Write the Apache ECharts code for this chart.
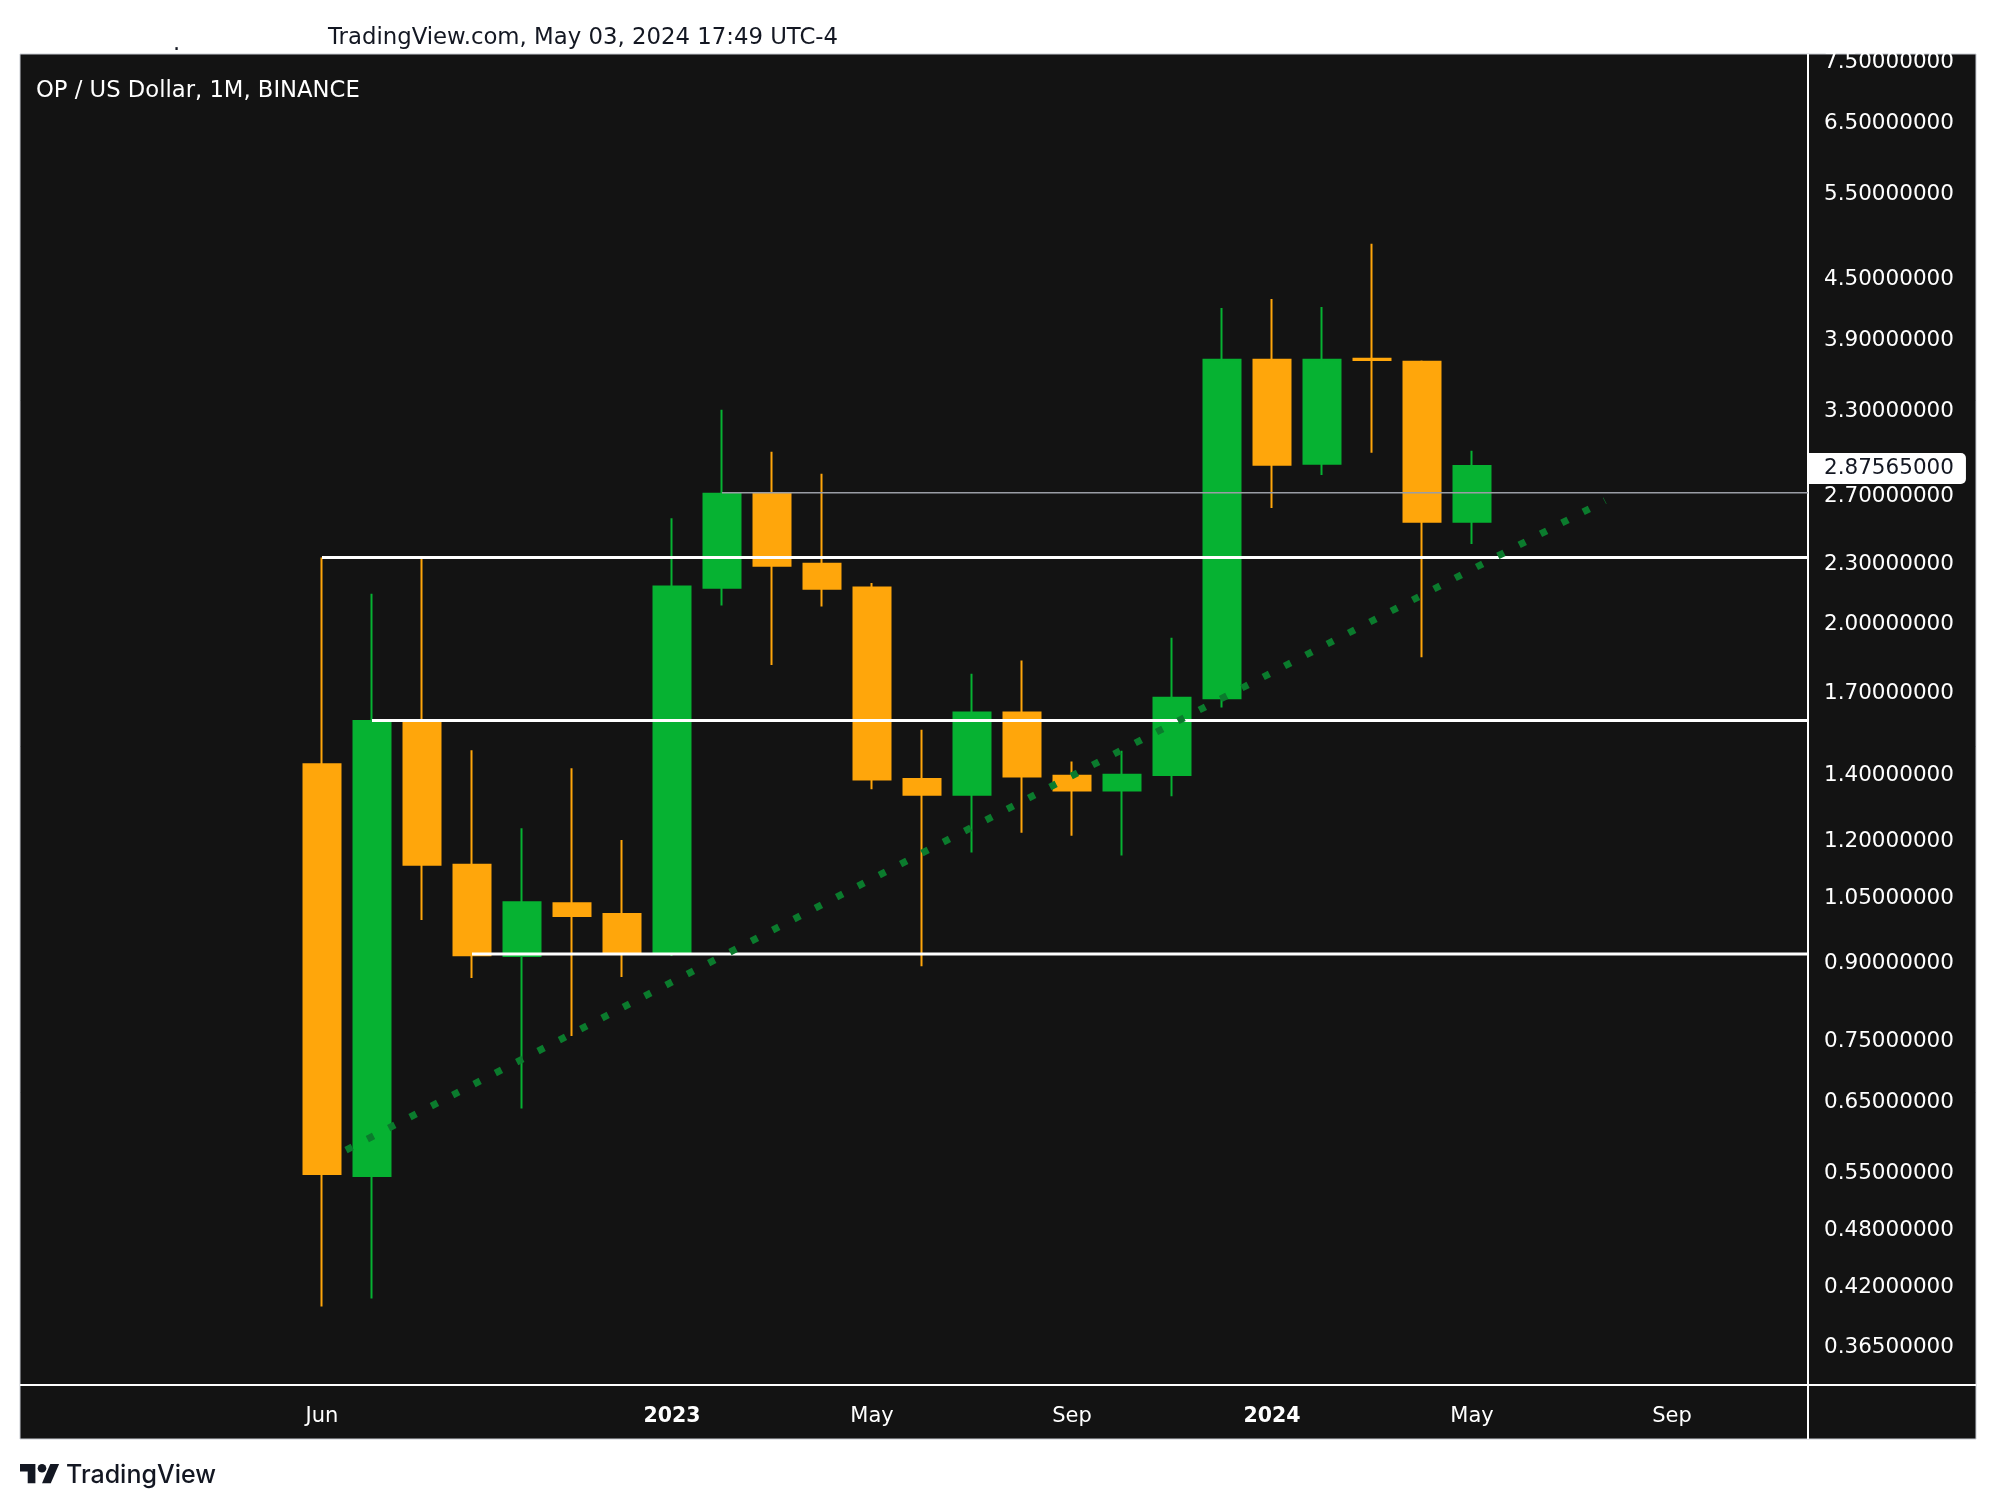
<!DOCTYPE html>
<html>
<head>
<meta charset="utf-8">
<script src="https://cdn.jsdelivr.net/npm/echarts@6/dist/echarts.min.js"></script>
<style>
html,body{margin:0;padding:0;background:#ffffff;}
#c{width:1996px;height:1510px;}
</style>
</head>
<body>
<div id="c"></div>
<script>
// ---- data ----
const months = ['2022-06','2022-07','2022-08','2022-09','2022-10','2022-11','2022-12',
  '2023-01','2023-02','2023-03','2023-04','2023-05','2023-06','2023-07','2023-08','2023-09','2023-10','2023-11','2023-12',
  '2024-01','2024-02','2024-03','2024-04','2024-05'];
const opens  = [1.425, 0.541, 1.5735, 1.125, 0.908, 1.028, 1.002, 0.914, 2.159, 2.694, 2.284, 2.16, 1.377, 1.3265, 1.61, 1.3875, 1.34, 1.39, 1.665, 3.692, 2.89, 3.70, 3.675, 2.522];
const highs  = [2.318, 2.129, 2.31, 1.473, 1.226, 1.412, 1.193, 2.543, 3.283, 2.974, 2.823, 2.184, 1.546, 1.764, 1.819, 1.435, 1.471, 1.92, 4.17, 4.26, 4.18, 4.85, 3.685, 2.98];
const lows   = [0.398, 0.4055, 0.988, 0.862, 0.634, 0.752, 0.864, 0.908, 2.071, 1.80, 2.066, 1.344, 0.886, 1.158, 1.213, 1.2045, 1.15, 1.322, 1.629, 2.605, 2.816, 2.966, 1.834, 2.394];
const closes = [0.5435, 1.578, 1.125, 0.9095, 1.030, 0.9975, 0.914, 2.165, 2.694, 2.274, 2.154, 1.375, 1.3265, 1.61, 1.385, 1.34, 1.391, 1.667, 3.692, 2.884, 3.692, 3.69, 2.522, 2.87565];

const xTickIdx    = [0, 7, 11, 15, 19, 23, 27];
const xTickLabels = ['Jun', '2023', 'May', 'Sep', '2024', 'May', 'Sep'];
const yTickValues = [0.365, 0.42, 0.48, 0.55, 0.65, 0.75, 0.9, 1.05, 1.2, 1.4, 1.7, 2.0, 2.3, 2.7, 3.3, 3.9, 4.5, 5.5, 6.5, 7.5];

const levelStart = [0, 1, 3];
const levelValue = [2.318, 1.58, 0.912];
const grayStart = [8];
const grayValue = [2.70];
const trendX = [0.48, 25.66];
const trendY = [0.575, 2.65];
const lastPrice = 2.87565;

// ---- axis extents ----
const X_MIN = -6.04, X_MAX = 29.72;
const Y_MIN = 0.3316, Y_MAX = 7.581;

const FONT = 'DejaVu Sans';
const GREEN = '#06b232';
const ORANGE = '#ffa60b';

const candleData = months.map((m, i) => [i, opens[i], closes[i], lows[i], highs[i]]);

const series = [];
levelStart.forEach((s, i) => {
  series.push({
    type: 'line', silent: true, symbol: 'none', animation: false,
    data: [[s, levelValue[i]], [X_MAX, levelValue[i]]],
    lineStyle: { color: '#ffffff', width: 3 }
  });
});
grayStart.forEach((s, i) => {
  series.push({
    type: 'line', silent: true, symbol: 'none', animation: false,
    data: [[s, grayValue[i]], [X_MAX, grayValue[i]]],
    lineStyle: { color: '#9a9da5', width: 1.5 }
  });
});
series.push({
  type: 'line', silent: true, symbol: 'none', animation: false,
  data: [[trendX[0], trendY[0]], [trendX[1], trendY[1]]],
  lineStyle: { color: '#0b7b2d', width: 7, type: [7, 17], cap: 'butt' }
});
series.push({
  type: 'candlestick',
  animation: false,
  encode: { x: 0, y: [1, 2, 3, 4] },
  data: candleData,
  barWidth: 38,
  itemStyle: {
    color: GREEN, color0: ORANGE,
    borderColor: GREEN, borderColor0: ORANGE, borderColorDoji: ORANGE,
    borderWidth: 2
  },
  markLine: {
    silent: true, animation: false, symbol: ['none', 'none'], precision: 8,
    data: [{ yAxis: lastPrice }],
    lineStyle: { color: 'rgba(0,0,0,0)', width: 0 },
    label: {
      show: true, position: 'end', distance: 0, opacity: 1,
      offset: [0, 2.5],
      formatter: p => Number(p.value).toFixed(8),
      backgroundColor: '#ffffff', color: '#131722',
      fontSize: 21.5, fontFamily: FONT,
      padding: [6, 12, 3, 16], borderRadius: [0, 5, 5, 0]
    }
  }
});

const chart = echarts.init(document.getElementById('c'), null, { renderer: 'canvas' });
chart.setOption({
  backgroundColor: '#ffffff',
  animation: false,
  grid: { left: 20, right: 188, top: 54, bottom: 126, containLabel: false },
  xAxis: {
    type: 'value', min: X_MIN, max: X_MAX,
    axisLine: { show: false }, axisTick: { show: false }, splitLine: { show: false },
    axisLabel: {
      customValues: xTickIdx,
      formatter: v => {
        const k = xTickIdx.indexOf(Math.round(v));
        const s = k >= 0 ? xTickLabels[k] : '';
        return /^\d{4}$/.test(s) ? '{b|' + s + '}' : s;
      },
      color: '#ffffff', fontSize: 21, fontFamily: FONT, margin: 22,
      rich: { b: { fontWeight: 'bold', fontSize: 20.5, color: '#ffffff', fontFamily: FONT } }
    }
  },
  yAxis: {
    type: 'log', logBase: 10, position: 'right', min: Y_MIN, max: Y_MAX,
    axisLine: { show: false }, axisTick: { show: false }, splitLine: { show: false },
    axisLabel: {
      customValues: yTickValues,
      formatter: v => Number(v).toFixed(8),
      color: '#ffffff', fontSize: 21.5, fontFamily: FONT, margin: 16,
      verticalAlign: 'top', lineHeight: 8
    }
  },
  graphic: [
    { type: 'rect', z: -10, silent: true,
      shape: { x: 20, y: 54, width: 1956, height: 1385 },
      style: { fill: '#131313', stroke: '#c9ccd3', lineWidth: 1 } },
    { type: 'line', z: -5, silent: true,
      shape: { x1: 1808, y1: 54, x2: 1808, y2: 1439 },
      style: { stroke: '#ffffff', lineWidth: 2 } },
    { type: 'line', z: -5, silent: true,
      shape: { x1: 20, y1: 1385, x2: 1976, y2: 1385 },
      style: { stroke: '#ffffff', lineWidth: 2 } },
    { type: 'text', silent: true, x: 328, y: 38,
      style: { text: 'TradingView.com, May 03, 2024 17:49 UTC-4', fill: '#131722', font: '22.8px "DejaVu Sans"', textVerticalAlign: 'middle', textAlign: 'left' } },
    { type: 'text', silent: true, x: 173, y: 44,
      style: { text: '.', fill: '#131722', font: '22.5px "DejaVu Sans"', textVerticalAlign: 'middle', textAlign: 'left' } },
    { type: 'text', silent: true, x: 36, y: 91.5,
      style: { text: 'OP / US Dollar, 1M, BINANCE', fill: '#ffffff', font: '22.7px "DejaVu Sans"', textVerticalAlign: 'middle', textAlign: 'left' } },
    { type: 'polygon', silent: true,
      shape: { points: [[35.4,1483.3],[27.7,1483.3],[27.7,1471.5],[20,1471.5],[20,1464],[35.4,1464]] },
      style: { fill: '#131722' } },
    { type: 'polygon', silent: true,
      shape: { points: [[50.8,1483.3],[42,1483.3],[50.3,1464],[59.1,1464]] },
      style: { fill: '#131722' } },
    { type: 'circle', silent: true,
      shape: { cx: 42, cy: 1468.3, r: 4.3 },
      style: { fill: '#131722' } },
    { type: 'text', silent: true, x: 66, y: 1475.5,
      style: { text: 'TradingView', fill: '#131722', font: '500 25px Inter', textVerticalAlign: 'middle', textAlign: 'left' } }
  ],
  series: series
});
</script>
</body>
</html>
